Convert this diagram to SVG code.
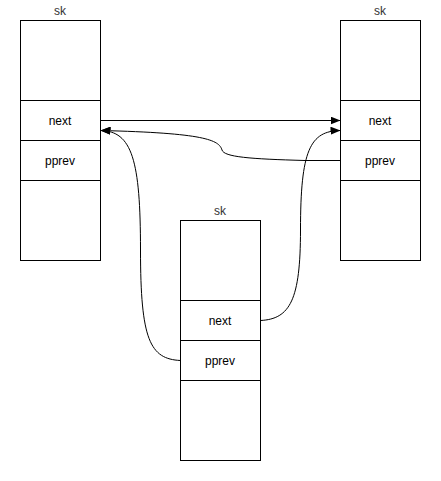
<svg xmlns="http://www.w3.org/2000/svg" width="441" height="481" viewBox="0 0 441 481">
<style>
.box{fill:#fff;stroke:#000;stroke-width:1}
.t{font-family:"Liberation Sans",Arial,sans-serif;font-size:12px;fill:#000;text-anchor:middle}
.lbl{font-family:"Liberation Sans",Arial,sans-serif;font-size:12px;fill:#333;text-anchor:middle}
.e{fill:none;stroke:#000;stroke-width:1}
</style>
<defs>
<marker id="ah" viewBox="0 0 10 8" refX="10" refY="4" markerWidth="10" markerHeight="8" markerUnits="userSpaceOnUse" orient="auto">
<path d="M0,0 L10,4 L0,8 Z" fill="#000"/>
</marker>
</defs>
<rect width="441" height="481" fill="#fff"/>
<g id="sk-left">
<text class="lbl" x="60" y="15">sk</text>
<rect class="box" x="20.5" y="20.5" width="80" height="240"/>
<line class="e" x1="20.5" y1="100.5" x2="100.5" y2="100.5"/>
<line class="e" x1="20.5" y1="140.5" x2="100.5" y2="140.5"/>
<line class="e" x1="20.5" y1="180.5" x2="100.5" y2="180.5"/>
<text class="t" x="60" y="124.5">next</text>
<text class="t" x="60" y="164.5">pprev</text>
</g>
<g id="sk-right">
<text class="lbl" x="380" y="15">sk</text>
<rect class="box" x="340.5" y="20.5" width="80" height="240"/>
<line class="e" x1="340.5" y1="100.5" x2="420.5" y2="100.5"/>
<line class="e" x1="340.5" y1="140.5" x2="420.5" y2="140.5"/>
<line class="e" x1="340.5" y1="180.5" x2="420.5" y2="180.5"/>
<text class="t" x="380" y="124.5">next</text>
<text class="t" x="380" y="164.5">pprev</text>
</g>
<g id="sk-middle">
<text class="lbl" x="220" y="215">sk</text>
<rect class="box" x="180.5" y="220.5" width="80" height="240"/>
<line class="e" x1="180.5" y1="300.5" x2="260.5" y2="300.5"/>
<line class="e" x1="180.5" y1="340.5" x2="260.5" y2="340.5"/>
<line class="e" x1="180.5" y1="380.5" x2="260.5" y2="380.5"/>
<text class="t" x="220" y="324.5">next</text>
<text class="t" x="220" y="364.5">pprev</text>
</g>
<g id="connectors">
<path class="e" d="M100.5,120.5 L340.5,120.5" marker-end="url(#ah)"/>
<path class="e" d="M340.5,160.5 L305,160.5 C 250,159 224,157 222,150 C 219,140 205,133 100.5,130.5" marker-end="url(#ah)"/>
<path class="e" d="M180.5,360.5 C 150,359 140.5,340 140.5,250 C 140.5,160 132,131 100.5,130.5" marker-end="url(#ah)"/>
<path class="e" d="M260.5,320.5 C 290,319 300.5,300 300.5,230 C 300.5,150 310,131 340.5,130.5" marker-end="url(#ah)"/>
</g>
</svg>
